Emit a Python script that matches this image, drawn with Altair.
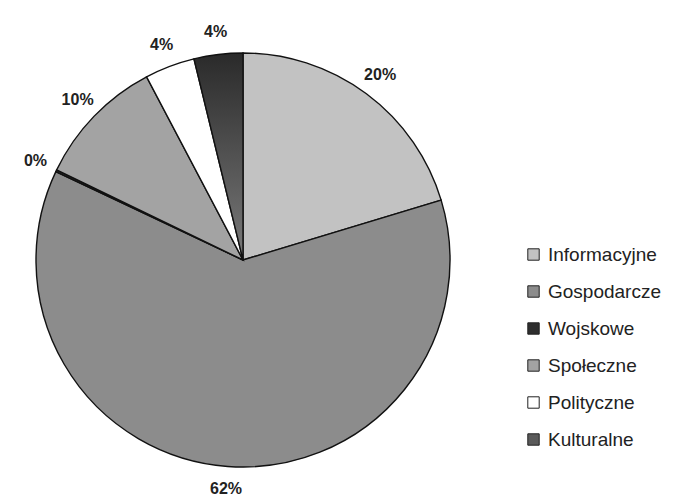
import altair as alt
import pandas as pd

categories = ["Informacyjne", "Gospodarcze", "Wojskowe", "Społeczne", "Polityczne", "Kulturalne"]
values = [20.3, 61.6, 0.15, 10.1, 3.9, 3.8]
labels = ["20%", "62%", "0%", "10%", "4%", "4%"]
colors = ["#c2c2c2", "#8c8c8c", "#2e2e2e", "#a3a3a3", "#ffffff", "#5a5a5a"]

df = pd.DataFrame({"cat": categories, "val": values, "lab": labels, "ord": list(range(len(categories)))})

grad = alt.Gradient(
    gradient="linear",
    stops=[alt.GradientStop(color="#2a2a2a", offset=0), alt.GradientStop(color="#7a7a7a", offset=1)],
    x1=0, x2=0, y1=0, y2=1,
)

CX, CY, R = 235, 252, 207

base = alt.Chart(df).encode(
    theta=alt.Theta("val:Q", stack=True),
    order=alt.Order("ord:Q"),
)

arcs = base.mark_arc(x=CX, y=CY, radius=R, stroke="#111111", strokeWidth=1.4).encode(
    fill=alt.condition(
        alt.datum.cat == "Kulturalne",
        alt.value(grad),
        alt.Fill(
            "cat:N",
            sort=categories,
            scale=alt.Scale(domain=categories, range=colors),
            legend=alt.Legend(
                title=None,
                orient="none",
                legendX=516,
                legendY=237,
                symbolType="square",
                symbolSize=130,
                symbolStrokeColor="#222222",
                symbolStrokeWidth=1,
                labelFont="Liberation Sans",
                labelFontSize=19,
                labelColor="#222222",
                rowPadding=17,
                padding=0,
                labelOffset=5,
            ),
        ),
    )
)

texts = base.mark_text(
    x=CX, y=CY, radius=230, font="Liberation Sans", fontSize=16, fontWeight="bold", color="#222222"
).encode(text="lab:N")

chart = (arcs + texts).properties(
    width=666, height=490, autosize=alt.AutoSizeParams(type="none"), padding=0
).configure_view(stroke=None)

chart.save("out.html", embed_options={"renderer": "svg", "actions": False})
